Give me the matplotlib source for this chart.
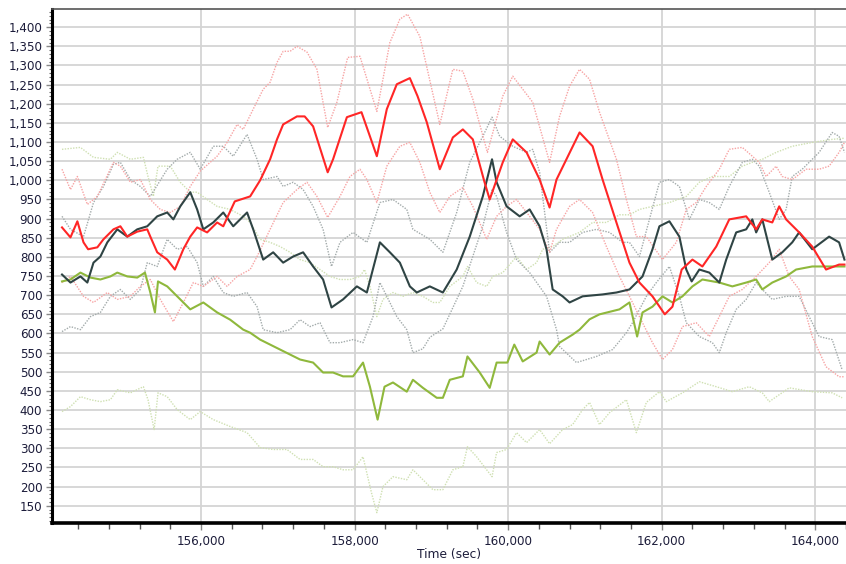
import matplotlib
matplotlib.use("Agg")
import matplotlib.pyplot as plt
from matplotlib.ticker import MultipleLocator, FuncFormatter

# red series (mean solid, +/- band dotted)
red_mean_t = [154190, 154300, 154390, 154470, 154530, 154650, 154730, 154860, 154950, 155040,
              155170, 155300, 155340, 155430, 155560, 155660, 155770, 155860, 155950, 156080,
              156210, 156290, 156440, 156640, 156770, 156900, 156990, 157070, 157250, 157350,
              157460, 157650, 157720, 157900, 158090, 158200, 158290, 158420, 158550, 158720,
              158820, 158940, 159110, 159280, 159410, 159540, 159690, 159760, 159930, 160060,
              160240, 160410, 160540, 160630, 160930, 161100, 161230, 161410, 161580, 161710,
              161880, 162040, 162140, 162260, 162400, 162530, 162710, 162880, 163100, 163230,
              163310, 163440, 163530, 163620, 163790, 163960, 164140, 164310, 164380]
red_mean_v = [877, 851, 893, 838, 820, 825, 846, 872, 880, 853,
              866, 872, 853, 812, 793, 767, 820, 853, 877, 864,
              890, 880, 945, 958, 1000, 1055, 1107, 1146, 1167, 1167,
              1141, 1021, 1055, 1165, 1178, 1115, 1063, 1186, 1251, 1267,
              1220, 1152, 1029, 1112, 1133, 1107, 997, 950, 1047, 1107,
              1073, 1002, 929, 1002, 1125, 1089, 1002, 890, 785, 733,
              697, 650, 670, 767, 793, 775, 827, 898, 906, 872,
              898, 890, 932, 898, 864, 827, 767, 780, 780]

red_up_t = [154190, 154300, 154390, 154520, 154650, 154860, 154950, 155080, 155210, 155340,
            155470, 155600, 155730, 155860, 155990, 156210, 156340, 156470, 156550, 156680,
            156810, 156900, 156990, 157070, 157160, 157250, 157380, 157510, 157650, 157770,
            157910, 158070, 158290, 158460, 158590, 158690, 158850, 159110, 159280, 159410,
            159540, 159730, 159930, 160060, 160320, 160540, 160670, 160800, 160930, 161060,
            161190, 161410, 161540, 161670, 161800, 162010, 162190, 162320, 162450, 162580,
            162750, 162880, 163050, 163180, 163270, 163360, 163490, 163570, 163700, 163880,
            164050, 164180, 164310, 164380]
red_up_v = [1029, 976, 1010, 937, 958, 1047, 1037, 995, 1002, 950,
            924, 916, 932, 984, 1024, 1063, 1099, 1146, 1133, 1186,
            1238, 1256, 1308, 1337, 1337, 1350, 1335, 1290, 1138, 1204,
            1321, 1324, 1180, 1360, 1421, 1434, 1376, 1146, 1290, 1285,
            1212, 1073, 1220, 1272, 1204, 1047, 1167, 1246, 1290, 1264,
            1178, 1055, 950, 853, 853, 793, 838, 924, 942, 984,
            1029, 1081, 1086, 1063, 1047, 1010, 1037, 1010, 1002, 1029,
            1029, 1037, 1073, 1099]

red_lo_t = [154190, 154300, 154470, 154600, 154780, 154910, 155080, 155210, 155340, 155470,
            155640, 155770, 155900, 156030, 156210, 156340, 156470, 156640, 156730, 156900,
            157070, 157250, 157380, 157510, 157650, 157810, 157940, 158070, 158160, 158290,
            158420, 158590, 158720, 158850, 158980, 159110, 159240, 159410, 159540, 159720,
            159850, 159980, 160110, 160280, 160410, 160540, 160630, 160800, 160930, 161100,
            161280, 161450, 161580, 161710, 161880, 162010, 162140, 162270, 162450, 162620,
            162750, 162880, 163050, 163230, 163400, 163530, 163660, 163790, 163960, 164140,
            164310, 164380]
red_lo_v = [733, 749, 697, 681, 707, 689, 697, 723, 741, 689,
            631, 681, 733, 723, 749, 723, 749, 767, 801, 872,
            942, 976, 995, 958, 903, 958, 1010, 1029, 1002, 942,
            1037, 1089, 1099, 1047, 969, 916, 958, 981, 932, 846,
            906, 932, 950, 906, 872, 812, 872, 932, 950, 916,
            827, 749, 697, 644, 576, 532, 558, 618, 628, 592,
            644, 697, 715, 749, 785, 820, 749, 715, 592, 513,
            487, 487]

# dark grey series
grey_mean_t = [154190, 154300, 154430, 154520, 154600, 154690, 154780, 154910, 155040, 155170,
               155300, 155430, 155560, 155640, 155730, 155860, 155950, 156030, 156160, 156290,
               156420, 156550, 156600, 156680, 156810, 156940, 157070, 157200, 157330, 157460,
               157590, 157700, 157850, 158030, 158160, 158330, 158460, 158590, 158720, 158810,
               158980, 159150, 159330, 159500, 159670, 159790, 159850, 159980, 160150, 160280,
               160410, 160500, 160580, 160710, 160800, 160970, 161230, 161410, 161580, 161750,
               161880, 161970, 162100, 162230, 162320, 162390, 162490, 162620, 162750, 162840,
               162970, 163100, 163180, 163230, 163310, 163440, 163570, 163700, 163790, 163960,
               164180, 164310, 164380]
grey_mean_v = [754, 733, 749, 733, 785, 801, 838, 872, 853, 872,
               880, 906, 916, 898, 932, 969, 924, 872, 890, 916,
               880, 906, 916, 872, 793, 812, 785, 801, 812, 775,
               741, 668, 689, 723, 707, 838, 812, 785, 723, 707,
               723, 707, 767, 853, 958, 1055, 995, 932, 906, 924,
               880, 820, 715, 697, 681, 697, 702, 707, 715, 749,
               820, 880, 893, 853, 767, 736, 767, 759, 733, 793,
               864, 872, 898, 864, 898, 793, 812, 838, 864, 820,
               853, 838, 793]

grey_up_t = [154190, 154300, 154470, 154600, 154730, 154860, 154950, 155080, 155210, 155340,
             155560, 155690, 155860, 155990, 156160, 156290, 156420, 156600, 156730, 156810,
             156990, 157070, 157200, 157330, 157460, 157590, 157700, 157810, 157980, 158160,
             158330, 158500, 158680, 158760, 158980, 159150, 159330, 159500, 159670, 159790,
             159890, 160060, 160240, 160320, 160410, 160540, 160670, 160800, 160970, 161150,
             161320, 161490, 161580, 161710, 161840, 161970, 162100, 162230, 162360, 162490,
             162620, 162750, 162880, 163050, 163180, 163270, 163400, 163530, 163620, 163700,
             163830, 164050, 164220, 164310, 164380]
grey_up_v = [906, 872, 853, 942, 984, 1042, 1047, 1002, 984, 958,
             1029, 1055, 1073, 1029, 1089, 1089, 1063, 1120, 1055, 1002,
             1010, 984, 995, 976, 932, 872, 775, 838, 864, 838,
             942, 950, 924, 872, 846, 812, 916, 1047, 1115, 1165,
             1115, 1089, 1073, 1081, 1021, 812, 838, 838, 864, 872,
             864, 838, 838, 801, 898, 995, 1002, 984, 898, 950,
             942, 924, 984, 1047, 1055, 1037, 969, 898, 924, 1010,
             1029, 1073, 1125, 1115, 1073]

grey_lo_t = [154190, 154300, 154430, 154560, 154690, 154820, 154950, 155080, 155210, 155300,
             155430, 155560, 155690, 155820, 155950, 156030, 156160, 156290, 156420, 156600,
             156730, 156810, 156990, 157160, 157290, 157420, 157550, 157680, 157810, 157980,
             158110, 158240, 158330, 158420, 158550, 158680, 158760, 158890, 158980, 159150,
             159410, 159670, 159790, 159850, 159980, 160110, 160280, 160500, 160630, 160670,
             160890, 161150, 161360, 161540, 161620, 161800, 161930, 162100, 162230, 162320,
             162490, 162660, 162750, 162840, 162970, 163100, 163230, 163310, 163440, 163620,
             163790, 163920, 164050, 164220, 164350]
grey_lo_v = [605, 618, 610, 644, 655, 697, 715, 689, 715, 785,
             775, 846, 820, 827, 785, 723, 749, 707, 697, 707,
             670, 610, 602, 610, 636, 618, 628, 576, 576, 584,
             576, 644, 733, 697, 644, 610, 550, 560, 590, 612,
             723, 880, 976, 958, 864, 793, 759, 697, 610, 566,
             524, 540, 558, 602, 628, 697, 733, 775, 697, 628,
             592, 576, 550, 602, 663, 689, 733, 715, 689, 697,
             697, 644, 592, 584, 505]

# green series
green_mean_t = [154190, 154300, 154430, 154560, 154690, 154820, 154910, 155040, 155170, 155270,
                155340, 155400, 155440, 155560, 155690, 155860, 156030, 156210, 156380, 156550,
                156640, 156770, 157030, 157290, 157460, 157590, 157720, 157850, 157980, 158110,
                158200, 158300, 158390, 158500, 158680, 158760, 158890, 159070, 159150, 159240,
                159410, 159470, 159630, 159760, 159850, 159990, 160080, 160190, 160370, 160410,
                160540, 160670, 160840, 160930, 161060, 161190, 161450, 161580, 161680, 161750,
                161880, 162010, 162140, 162270, 162400, 162530, 162750, 162920, 163100, 163230,
                163310, 163440, 163620, 163750, 163960, 164180, 164380]
green_mean_v = [736, 741, 759, 746, 741, 749, 759, 749, 746, 759,
                707, 655, 736, 723, 697, 663, 681, 655, 636, 610,
                602, 584, 558, 532, 524, 498, 498, 488, 488, 524,
                461, 375, 461, 472, 448, 479, 458, 432, 432, 479,
                488, 540, 498, 458, 524, 524, 571, 527, 550, 579,
                545, 576, 597, 610, 637, 650, 663, 681, 592, 655,
                670, 697, 681, 697, 723, 741, 733, 723, 733, 741,
                715, 733, 749, 767, 775, 775, 775]

green_up_t = [154190, 154430, 154600, 154820, 154910, 155080, 155250, 155310, 155380, 155440,
              155600, 155730, 155860, 155950, 156080, 156210, 156380, 156550, 156640, 156770,
              156900, 157030, 157160, 157290, 157420, 157550, 157680, 157810, 157940, 158070,
              158130, 158200, 158290, 158370, 158500, 158630, 158760, 158890, 159020, 159110,
              159240, 159410, 159470, 159590, 159720, 159800, 159930, 160110, 160240, 160370,
              160450, 160580, 160710, 160930, 161100, 161280, 161450, 161580, 161710, 161880,
              162100, 162320, 162490, 162660, 162880, 163050, 163180, 163310, 163490, 163700,
              163960, 164220, 164380]
green_up_v = [1081, 1086, 1060, 1055, 1073, 1055, 1060, 1010, 958, 1037,
              1037, 995, 969, 969, 950, 932, 924, 906, 890, 846,
              838, 827, 812, 793, 785, 767, 749, 741, 741, 749,
              767, 723, 644, 689, 707, 697, 707, 697, 681, 681,
              723, 749, 775, 733, 723, 749, 759, 801, 767, 785,
              820, 827, 846, 864, 890, 890, 910, 910, 924, 932,
              942, 958, 995, 1010, 1010, 1037, 1047, 1055, 1073, 1089,
              1099, 1107, 1110]

green_lo_t = [154190, 154300, 154430, 154560, 154690, 154820, 154910, 155080, 155250, 155310,
              155390, 155440, 155560, 155690, 155860, 155990, 156160, 156380, 156600, 156770,
              156940, 157120, 157290, 157460, 157590, 157720, 157850, 157980, 158110, 158220,
              158290, 158370, 158500, 158680, 158760, 158890, 159020, 159150, 159280, 159410,
              159470, 159590, 159720, 159790, 159850, 159980, 160110, 160240, 160410, 160540,
              160710, 160840, 160970, 161060, 161190, 161320, 161540, 161670, 161800, 161970,
              162060, 162270, 162490, 162710, 162920, 163140, 163310, 163400, 163660, 163960,
              164220, 164350]
green_lo_v = [396, 409, 435, 427, 422, 427, 453, 445, 461, 427,
              349, 445, 435, 401, 375, 396, 375, 357, 341, 302,
              297, 297, 271, 271, 252, 252, 244, 244, 278, 184,
              132, 200, 226, 218, 244, 218, 192, 192, 244, 252,
              304, 278, 244, 226, 289, 297, 341, 315, 349, 312,
              349, 362, 401, 420, 362, 393, 427, 341, 420, 448,
              422, 445, 474, 461, 448, 461, 445, 422, 458, 448,
              445, 432]

RED = "#ff2626"
RED_LIGHT = "#f7a3a3"
DARK = "#2f4444"
GREY_LIGHT = "#a3abab"
GREEN = "#8fb83c"
GREEN_LIGHT = "#cfe0b2"
TXT = "#1c1c3a"

fig = plt.figure(figsize=(8.46, 5.64), dpi=100)
ax = fig.add_axes([0.0615, 0.0727, 0.9385, 0.911])

dot = (0, (1, 1))
# faint bands first
ax.plot(green_lo_t, green_lo_v, color=GREEN_LIGHT, lw=1.0, ls=dot)
ax.plot(green_up_t, green_up_v, color=GREEN_LIGHT, lw=1.0, ls=dot)
ax.plot(grey_lo_t, grey_lo_v, color=GREY_LIGHT, lw=1.0, ls=dot)
ax.plot(grey_up_t, grey_up_v, color=GREY_LIGHT, lw=1.0, ls=dot)
ax.plot(red_lo_t, red_lo_v, color=RED_LIGHT, lw=1.0, ls=dot)
ax.plot(red_up_t, red_up_v, color=RED_LIGHT, lw=1.0, ls=dot)
# means
ax.plot(green_mean_t, green_mean_v, color=GREEN, lw=1.5)
ax.plot(grey_mean_t, grey_mean_v, color=DARK, lw=1.5)
ax.plot(red_mean_t, red_mean_v, color=RED, lw=1.5)

ax.set_xlim(154060, 164400)
ax.set_ylim(105, 1447)

ax.xaxis.set_major_locator(MultipleLocator(2000))
ax.xaxis.set_minor_locator(MultipleLocator(400))
ax.yaxis.set_major_locator(MultipleLocator(50))
ax.yaxis.set_minor_locator(MultipleLocator(10))
comma = FuncFormatter(lambda v, p: "{:,.0f}".format(v))
ax.xaxis.set_major_formatter(comma)
ax.yaxis.set_major_formatter(comma)

ax.grid(True, which="major", color="#d4d4d4", lw=1.3)
ax.set_axisbelow(True)

ax.tick_params(axis="both", which="major", labelsize=8.6, labelcolor=TXT, color="#888888")
ax.tick_params(axis="y", which="major", length=4, width=1, pad=3)
ax.tick_params(axis="y", which="minor", length=2, width=0.8, color="#666666")
ax.tick_params(axis="x", which="major", length=5, width=1, pad=4)
ax.tick_params(axis="x", which="minor", length=4, width=1, color="#555555")

ax.spines["left"].set_linewidth(2.2)
ax.spines["bottom"].set_linewidth(2.6)
ax.spines["left"].set_color("black")
ax.spines["bottom"].set_color("black")
ax.spines["top"].set_color("#555555")
ax.spines["top"].set_linewidth(1.2)
ax.spines["right"].set_visible(False)

ax.set_xlabel("Time (sec)", fontsize=8.8, color=TXT, labelpad=0)

fig.savefig("out.png", dpi=100)
